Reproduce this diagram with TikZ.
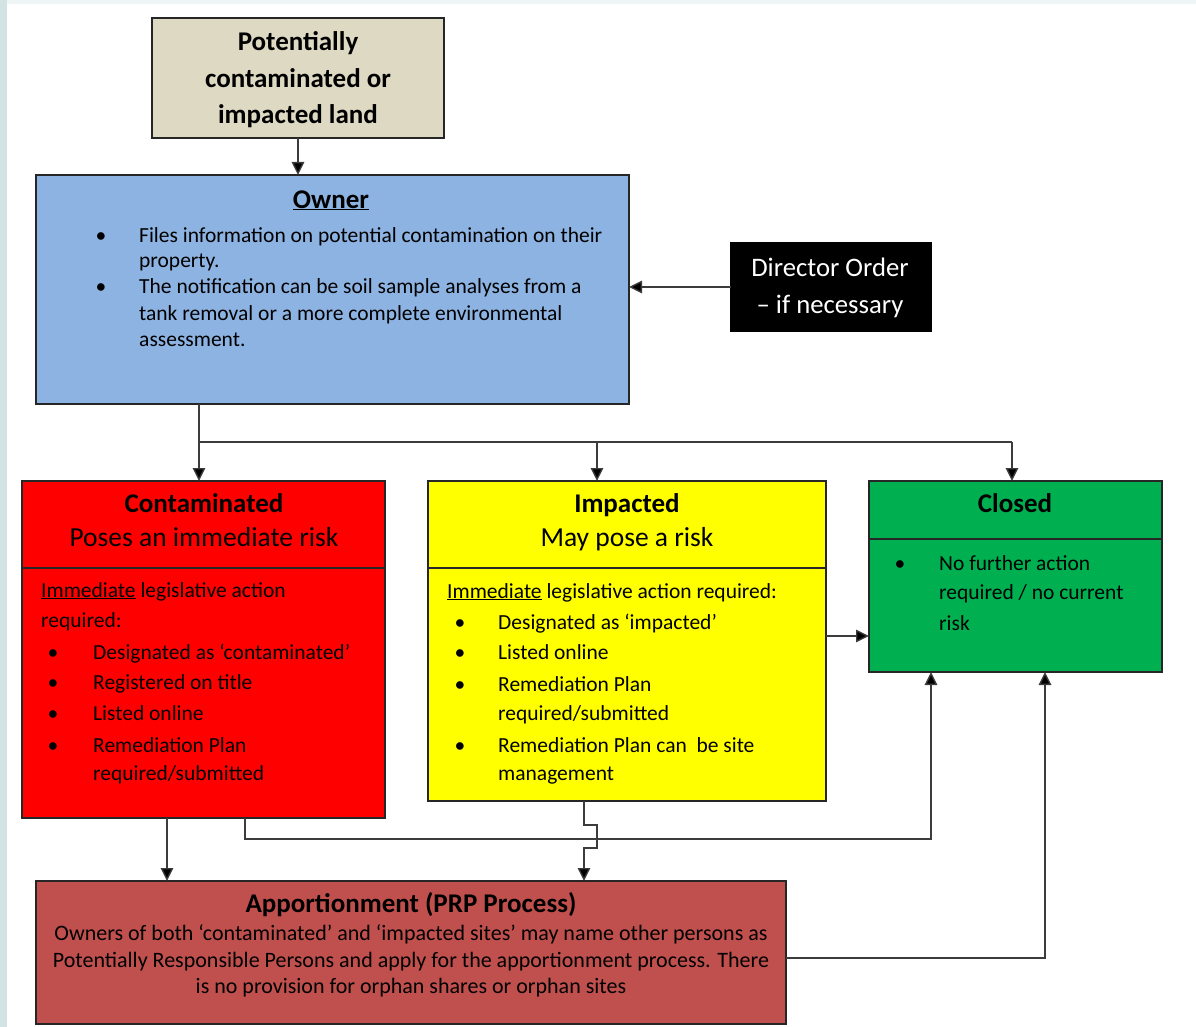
\documentclass[tikz,border=0pt]{standalone}
\usepackage{fontspec}
\setmainfont{Carlito}
\usetikzlibrary{arrows.meta,calc}
\definecolor{tanc}{HTML}{DDD9C3}
\definecolor{ownerc}{HTML}{8DB3E2}
\definecolor{redc}{HTML}{FF0000}
\definecolor{yelc}{HTML}{FFFF00}
\definecolor{greenc}{HTML}{00B050}
\definecolor{appc}{HTML}{C0504D}
\definecolor{stripl}{HTML}{D3E3E3}
\definecolor{stript}{HTML}{EEF5F5}
\definecolor{linec}{HTML}{3C3C3C}
\newcommand\fsz[2]{\fontsize{#1}{#2}\selectfont}
\begin{document}
\begin{tikzpicture}[x=1pt,y=-1pt,
  box/.style={draw=black!85,line width=1.3pt,inner sep=0pt,outer sep=0pt,anchor=north west},
  body/.style={inner sep=0pt,anchor=base west,font=\fsz{21.5}{26}},
  bodyc/.style={inner sep=0pt,anchor=base,font=\fsz{22}{26}},
  bul/.style={inner sep=0pt,anchor=base,font=\fsz{21.5}{26}},
  ttl/.style={inner sep=0pt,anchor=base,font=\fsz{27}{30}\bfseries},
  sub/.style={inner sep=0pt,anchor=base,font=\fsz{27.5}{30}},
  dirt/.style={inner sep=0pt,anchor=base,font=\fsz{26.7}{30},text=white},
  conn/.style={draw=linec,line width=1.4pt},
  arr/.style={conn,-{Triangle[length=13pt,width=12.5pt,fill=black]}},
  divl/.style={draw=black!85,line width=1.2pt}]
\useasboundingbox (0,0) rectangle (1196,1027);
\fill[white] (0,0) rectangle (1196,1027);
\fill[stripl] (0,0) rectangle (7,1027);
\fill[stript] (7,0) rectangle (1196,4);

% boxes
\node[box,fill=tanc,minimum width=292pt,minimum height=120pt] (land) at (152,18) {};
\node[box,fill=ownerc,minimum width=593pt,minimum height=229pt] (own) at (36,175) {};
\node[box,draw=black,fill=black,minimum width=200pt,minimum height=88pt] (dir) at (731,243) {};
\node[box,fill=redc,minimum width=363pt,minimum height=337pt] (cont) at (22,481) {};
\node[box,fill=yelc,minimum width=398pt,minimum height=320pt] (imp) at (428,481) {};
\node[box,fill=greenc,minimum width=293pt,minimum height=191pt] (clo) at (869,481) {};
\node[box,fill=appc,minimum width=750pt,minimum height=143pt] (app) at (36,881) {};

% dividers
\draw[divl] ($(cont.north west)+(0,87)$) -- ($(cont.north east)+(0,87)$);
\draw[divl] ($(imp.north west)+(0,87)$) -- ($(imp.north east)+(0,87)$);
\draw[divl] ($(clo.north west)+(0,58)$) -- ($(clo.north east)+(0,58)$);

% top box text
\node[ttl] (land1) at (298,51) {Potentially};
\node[ttl] (land2) at (298,88) {contaminated or};
\node[ttl] (land3) at (298,124) {impacted land};

% owner
\node[ttl] (ownt) at (331,208) {\underline{Owner}};
\node[bul] (ob1) at (101,242) {•};
\node[body] (ol1) at (139,242) {Files information on potential contamination on their};
\node[body] (ol2) at (139,267) {property.};
\node[bul] (ob2) at (101,293) {•};
\node[body] (ol3) at (139,293) {The notification can be soil sample analyses from a};
\node[body] (ol4) at (139,320) {tank removal or a more complete environmental};
\node[body] (ol5) at (139,346) {assessment.};

% director
\node[dirt] (dir1) at (830,276) {Director Order};
\node[dirt] (dir2) at (830,313) {– if necessary};

% contaminated
\node[ttl] (ct) at (204,512) {Contaminated};
\node[sub] (cs) at (204,546) {Poses an immediate risk};
\node[body] (c1) at (41,597) {\underline{Immediate} legislative action};
\node[body] (c2) at (41,627) {required:};
\node[bul] (cb1) at (53,659) {•};
\node[body] (c3) at (93,659) {Designated as ‘contaminated’};
\node[bul] (cb2) at (53,689) {•};
\node[body] (c4) at (93,689) {Registered on title};
\node[bul] (cb3) at (53,720) {•};
\node[body] (c5) at (93,720) {Listed online};
\node[bul] (cb4) at (53,752) {•};
\node[body] (c6) at (93,752) {Remediation Plan};
\node[body] (c7) at (93,780) {required/submitted};

% impacted
\node[ttl] (it) at (627,512) {Impacted};
\node[sub] (is) at (627,546) {May pose a risk};
\node[body] (i1) at (447,598) {\underline{Immediate} legislative action required:};
\node[bul] (ib1) at (460,629) {•};
\node[body] (i2) at (498,629) {Designated as ‘impacted’};
\node[bul] (ib2) at (460,659) {•};
\node[body] (i3) at (498,659) {Listed online};
\node[bul] (ib3) at (460,691) {•};
\node[body] (i4) at (498,691) {Remediation Plan};
\node[body] (i5) at (498,720) {required/submitted};
\node[bul] (ib4) at (460,752) {•};
\node[body] (i6) at (498,752) {Remediation Plan can\ \ be site};
\node[body] (i7) at (498,780) {management};

% closed
\node[ttl] (clt) at (1015,512) {Closed};
\node[bul] (clb) at (900,570) {•};
\node[body] (cl1) at (939,570) {No further action};
\node[body] (cl2) at (939,599) {required / no current};
\node[body] (cl3) at (939,630) {risk};

% apportionment
\node[ttl] (apt) at (411,912) {Apportionment (PRP Process)};
\node[bodyc] (ap1) at (411,940) {Owners of both ‘contaminated’ and ‘impacted sites’ may name other persons as};
\node[bodyc] (ap2) at (411,967) {Potentially Responsible Persons and apply for the apportionment process. There};
\node[bodyc] (ap3) at (411,993) {is no provision for orphan shares or orphan sites};

% connectors
\draw[arr] (land.south) -- (land.south |- own.north);
\draw[arr] (dir.west) -- (dir.west -| own.east);
\draw[conn] ($(own.south west)+(163,0)$) -- ++(0,38) coordinate (hub);
\draw[arr] (hub) -- (hub |- cont.north);
\draw[conn] (hub) -- ($(clo.north west)+(143,-39)$) coordinate (hubr);
\draw[arr] (hubr) -- ($(clo.north west)+(143,0)$);
\draw[arr] ($(imp.north west)+(169,-39)$) -- ($(imp.north west)+(169,0)$);
\draw[arr] ($(imp.north east)+(0,155)$) -- ($(clo.north west)+(0,155)$);
\draw[arr] ($(cont.south west)+(145,0)$) -- ($(app.north west)+(131,0)$);
\draw[arr] ($(cont.south west)+(223,0)$) -- ++(0,21) -| ($(clo.south west)+(62,0)$);
\draw[arr] ($(imp.south west)+(156,0)$) -- ++(0,24) -- ++(13,0) -- ++(0,23) -- ++(-13,0) -- ($(app.north west)+(548,0)$);
\draw[arr] ($(app.north east)+(0,77)$) -| ($(clo.south west)+(176,0)$);
\end{tikzpicture}
\end{document}
